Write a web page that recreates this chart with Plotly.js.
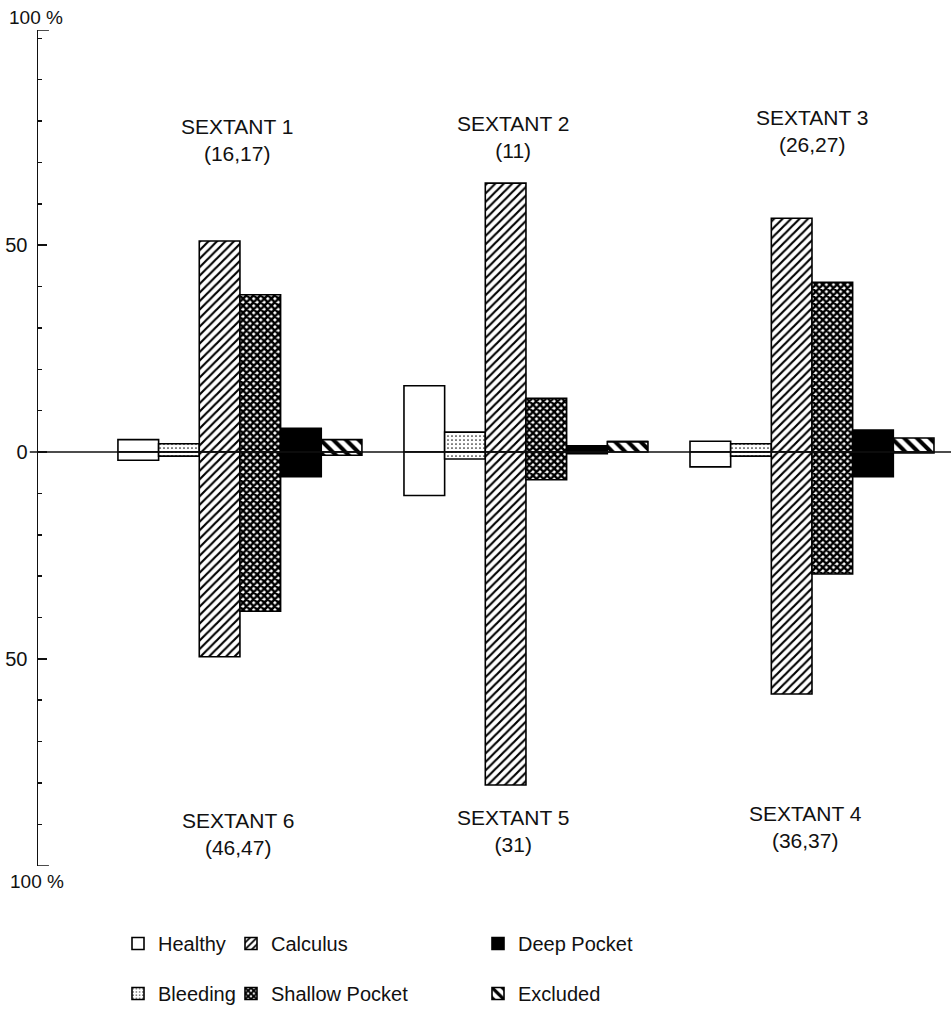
<!DOCTYPE html>
<html>
<head>
<meta charset="utf-8">
<script src="https://cdn.plot.ly/plotly-3.0.1.min.js"></script>
<style>html,body{margin:0;padding:0;background:#fff;}#chart{width:951px;height:1013px;}</style>
</head>
<body>
<div id="chart"></div>
<script>
// Sextant positions (upper half: sextants 1-3, lower half: sextants 6-4)
const positions = ['A', 'B', 'C'];
const topLabels = ['SEXTANT 1', 'SEXTANT 2', 'SEXTANT 3'];
const topTeeth = ['(16,17)', '(11)', '(26,27)'];
const bottomLabels = ['SEXTANT 6', 'SEXTANT 5', 'SEXTANT 4'];
const bottomTeeth = ['(46,47)', '(31)', '(36,37)'];

const categories = ['Healthy', 'Bleeding', 'Calculus', 'Shallow Pocket', 'Deep Pocket', 'Excluded'];

// percentages, upper (sextants 1,2,3)
const healthyUp = [3, 16, 2.6];
const bleedingUp = [2, 4.8, 2];
const calculusUp = [51, 65, 56.5];
const shallowUp = [38, 13, 41];
const deepUp = [5.7, 1.5, 5.3];
const excludedUp = [3, 2.5, 3.4];

// percentages, lower (sextants 6,5,4)
const healthyLow = [2, 10.5, 3.6];
const bleedingLow = [1, 1.7, 1];
const calculusLow = [49.5, 80.5, 58.5];
const shallowLow = [38.5, 6.7, 29.5];
const deepLow = [6, 0.4, 6];
const excludedLow = [0.8, 0, 0.2];

const upper = [healthyUp, bleedingUp, calculusUp, shallowUp, deepUp, excludedUp];
const lower = [healthyLow, bleedingLow, calculusLow, shallowLow, deepLow, excludedLow];

const styles = [
  {color: 'white', pattern: {shape: ''}},
  {color: 'white', pattern: {shape: '.', size: 4, solidity: 0.15, fgcolor: '#222', bgcolor: 'white', fillmode: 'replace'}},
  {color: 'white', pattern: {shape: '/', size: 6, solidity: 0.36, fgcolor: 'black', bgcolor: 'white', fillmode: 'replace'}},
  {color: 'white', pattern: {shape: 'x', size: 5, solidity: 0.72, fgcolor: 'black', bgcolor: 'white', fillmode: 'replace'}},
  {color: 'black', pattern: {shape: ''}},
  {color: 'white', pattern: {shape: '\\', size: 9, solidity: 0.45, fgcolor: 'black', bgcolor: 'white', fillmode: 'replace'}}
];
const legendOf = ['legend', 'legend', 'legend2', 'legend2', 'legend3', 'legend3'];

const traces = categories.map((name, i) => ({
  type: 'bar',
  name: name,
  x: positions.concat(positions),
  y: upper[i].concat(lower[i].map(v => -v)),
  legend: legendOf[i],
  legendgroup: name,
  marker: {
    color: styles[i].color,
    pattern: styles[i].pattern,
    line: {color: 'black', width: 1.6}
  },
  hoverinfo: 'name+y'
}));

const FONT = 'Liberation Sans, Arial, Helvetica, sans-serif';

const annotations = [];
positions.forEach((p, i) => {
  annotations.push({x: p, y: [75.5, 76.2, 77.7][i], xref: 'x', yref: 'y', xshift: [-3, -13, 0][i],
    text: topLabels[i] + '<br>' + topTeeth[i], showarrow: false, align: 'center',
    font: {family: FONT, size: 21, color: '#111'}});
  annotations.push({x: p, y: [-92.3, -91.6, -90.6][i], xref: 'x', yref: 'y', xshift: [-2, -13, -6][i],
    text: bottomLabels[i] + '<br>' + bottomTeeth[i], showarrow: false, align: 'center',
    font: {family: FONT, size: 21, color: '#111'}});
});
annotations.push({xref: 'paper', yref: 'y', x: 0, y: 102, xanchor: 'center', yanchor: 'bottom', xshift: -2, yshift: 0,
  text: '100 %', showarrow: false, font: {family: FONT, size: 19, color: '#111'}});
annotations.push({xref: 'paper', yref: 'y', x: 0, y: -100, xanchor: 'center', yanchor: 'top', xshift: -1, yshift: -3,
  text: '100 %', showarrow: false, font: {family: FONT, size: 19, color: '#111'}});

// plot region occupies y from 30 to 870 px; legend sits below inside the paper area
const H = 1013, TOP = 30, AXBOTTOM = 870, LEFT = 38, W = 951;
const paperH = H - TOP;
const yDomLow = (H - AXBOTTOM) / paperH;
const px2paperX = px => (px - LEFT) / (W - LEFT);
const px2paperY = py => (H - py) / paperH;

const legendBase = {
  orientation: 'v', xanchor: 'left', yanchor: 'top',
  y: px2paperY(929), tracegroupgap: 21, itemwidth: 30,
  font: {family: FONT, size: 20, color: '#111'}, bgcolor: 'rgba(0,0,0,0)', traceorder: 'grouped'
};

const layout = {
  width: W, height: H,
  margin: {l: LEFT, r: 0, t: TOP, b: 0},
  paper_bgcolor: 'white', plot_bgcolor: 'white',
  barmode: 'group', bargap: 0.147, bargroupgap: 0,
  font: {family: FONT, color: '#111'},
  xaxis: {
    type: 'category', range: [-0.706, 2.486], showticklabels: false, ticks: '',
    showgrid: false, zeroline: false, showline: false, fixedrange: true, automargin: false
  },
  yaxis: {
    domain: [yDomLow, 1], automargin: false,
    range: [-100, 102], showgrid: false, zeroline: false,
    showline: true, linecolor: '#111', linewidth: 1.5,
    tickmode: 'array', tickvals: [-50, 0, 50], ticktext: ['50', '0', '50'],
    ticks: 'inside', ticklen: 9, tickwidth: 1.5, tickcolor: '#111',
    minor: {tickmode: 'linear', dtick: 10, tick0: 0, ticks: 'inside', ticklen: 4, tickwidth: 1.5, tickcolor: '#111', showgrid: false},
    tickfont: {family: FONT, size: 20, color: '#111'}, ticklabelstandoff: 5
  },
  legend: Object.assign({}, legendBase, {x: px2paperX(118)}),
  legend2: Object.assign({}, legendBase, {x: px2paperX(231)}),
  legend3: Object.assign({}, legendBase, {x: px2paperX(478)}),
  shapes: [
    {type: 'line', xref: 'paper', yref: 'y', x0: -0.009, x1: 1, y0: 0, y1: 0, line: {color: '#111', width: 1.5}, layer: 'above'},
    {type: 'line', xref: 'paper', yref: 'y', x0: 0, x1: 0.012, y0: 102, y1: 102, line: {color: '#111', width: 1.5}},
    {type: 'line', xref: 'paper', yref: 'y', x0: 0, x1: 0.012, y0: -100, y1: -100, line: {color: '#111', width: 1.5}}
  ],
  annotations: annotations,
  showlegend: true
};

Plotly.newPlot('chart', traces, layout, {displayModeBar: false, staticPlot: true});
</script>
</body>
</html>
